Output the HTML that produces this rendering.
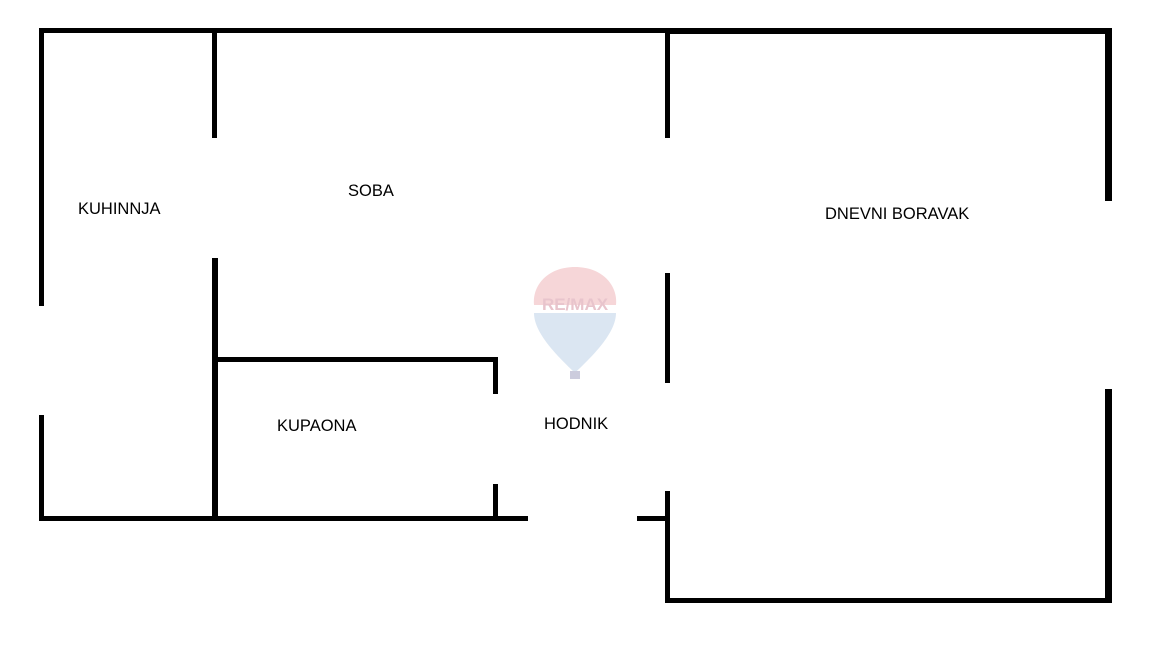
<!DOCTYPE html>
<html><head><style>
body{margin:0;width:1152px;height:648px;background:#fff;position:relative;overflow:hidden;font-family:"Liberation Sans",sans-serif;}
.w{position:absolute;background:#000;}
.t{position:absolute;font-size:16.5px;color:#000;white-space:nowrap;}
</style></head><body>
<div class="w" style="left:39px;top:28px;width:1073px;height:5px"></div>
<div class="w" style="left:665px;top:29px;width:447px;height:5px"></div>
<div class="w" style="left:39px;top:28px;width:5px;height:278px"></div>
<div class="w" style="left:39px;top:415px;width:5px;height:106px"></div>
<div class="w" style="left:39px;top:516px;width:489px;height:5px"></div>
<div class="w" style="left:212px;top:28px;width:5px;height:110px"></div>
<div class="w" style="left:212px;top:258px;width:6px;height:263px"></div>
<div class="w" style="left:212px;top:357px;width:286px;height:5px"></div>
<div class="w" style="left:493px;top:357px;width:5px;height:37px"></div>
<div class="w" style="left:493px;top:484px;width:5px;height:37px"></div>
<div class="w" style="left:665px;top:28px;width:5px;height:110px"></div>
<div class="w" style="left:665px;top:273px;width:5px;height:110px"></div>
<div class="w" style="left:665px;top:491px;width:5px;height:112px"></div>
<div class="w" style="left:637px;top:516px;width:33px;height:5px"></div>
<div class="w" style="left:665px;top:598px;width:447px;height:5px"></div>
<div class="w" style="left:1105px;top:28px;width:7px;height:173px"></div>
<div class="w" style="left:1105px;top:389px;width:7px;height:214px"></div>
<svg style="position:absolute;left:528px;top:265px" width="94" height="118" viewBox="0 0 94 118">
<path d="M47 2 C20 2 4 20 6 40 L88 40 C90 20 74 2 47 2Z" fill="#f6d6d8"/>
<path d="M6 48 L88 48 C88 70 60 95 47 108 C34 95 6 70 6 48Z" fill="#dbe6f2"/>
<rect x="42" y="106" width="10" height="8" fill="#ccd"/>
<text x="47" y="45" font-family="Liberation Sans" font-weight="bold" font-size="17" fill="#e8c4cc" text-anchor="middle">RE/MAX</text>
</svg>
<div class="t" style="left:78px;top:200px">KUHINNJA</div>
<div class="t" style="left:348px;top:182px">SOBA</div>
<div class="t" style="left:825px;top:205px">DNEVNI BORAVAK</div>
<div class="t" style="left:277px;top:417px">KUPAONA</div>
<div class="t" style="left:544px;top:415px">HODNIK</div>
</body></html>
